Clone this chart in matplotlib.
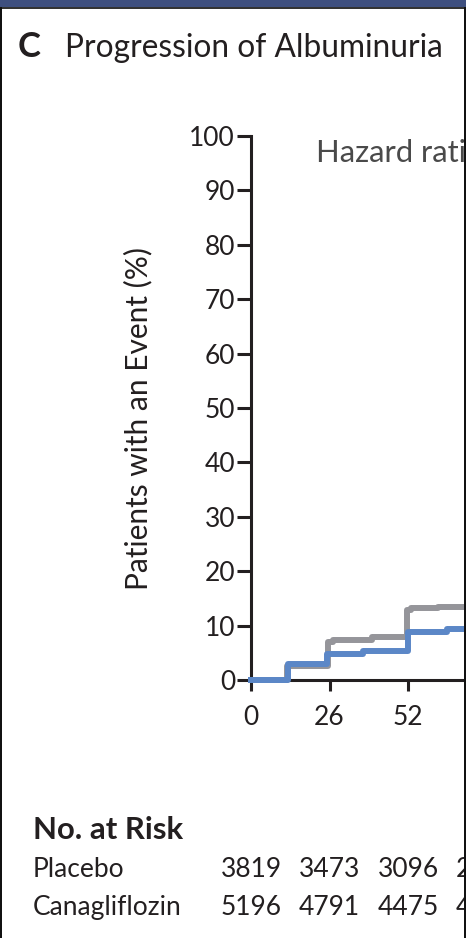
import matplotlib
matplotlib.use("Agg")
import matplotlib.pyplot as plt
import matplotlib.transforms as mtransforms
from matplotlib.patches import Rectangle

plt.rcParams['font.family'] = ['Lato', 'DejaVu Sans']

# ---- data ----
title_letter = "C"
title_text = "Progression of Albuminuria"
ylabel = "Patients with an Event (%)"
hr_text = "Hazard ratio, 0.73 (95% CI, 0.67\u20130.79)"
yticks = [0, 10, 20, 30, 40, 50, 60, 70, 80, 90, 100]
xticks = [0, 26, 52]
risk_weeks = [0, 26, 52, 78]
groups = ["Placebo", "Canagliflozin"]
placebo_risk = ["3819", "3473", "3096", "2790"]
cana_risk = ["5196", "4791", "4475", "4176"]

placebo_weeks = [0, 12, 25.5, 27, 40, 51.7, 53, 62, 75]
placebo_pct = [0, 2.5, 7.0, 7.4, 7.9, 12.9, 13.2, 13.5, 13.5]
cana_weeks = [0, 12.3, 25.2, 37, 52, 65, 75]
cana_pct = [0, 3.0, 4.8, 5.4, 8.9, 9.4, 9.4]

W, H = 466, 938
fig = plt.figure(figsize=(W / 100, H / 100), dpi=100)
fig.patch.set_facecolor('white')

TXT = '#231f20'
BLUE = '#5b87c7'
GRAY = '#95959a'

# axes placement in pixels
x0_px, y0_px, y100_px = 251, 680, 136
px_per_wk = 78.5 / 26
xmax = (W - x0_px) / px_per_wk
ax = fig.add_axes([x0_px / W, (H - y0_px) / H, (W - x0_px) / W, (y0_px - y100_px) / H])
ax.set_xlim(0, xmax)
ax.set_ylim(0, 100)
for s in ['top', 'right']:
    ax.spines[s].set_visible(False)
for s in ['left', 'bottom']:
    ax.spines[s].set_linewidth(2.2)
    ax.spines[s].set_color(TXT)
ax.set_yticks(yticks)
ax.set_xticks(xticks)
ax.tick_params(axis='y', length=10, width=2.2, color=TXT, pad=1.5,
               labelsize=19, labelcolor=TXT)
ax.tick_params(axis='x', length=8, width=2.2, color=TXT, pad=10,
               labelsize=19, labelcolor=TXT)

ax.step(placebo_weeks, placebo_pct, where='post', color=GRAY, lw=4.3,
        solid_joinstyle='round', clip_on=False, zorder=3)
ax.step(cana_weeks, cana_pct, where='post', color=BLUE, lw=4.3,
        solid_joinstyle='round', clip_on=False, zorder=4)

fig.canvas.draw()
renderer = fig.canvas.get_renderer()


def fit(t, target_px):
    bb = t.get_window_extent(renderer)
    t.set_fontsize(t.get_fontsize() * target_px / bb.width)


# title
t1 = fig.text(18 / W, 1 - 57 / H, title_letter, fontsize=24, fontweight='bold',
              color=TXT, ha='left', va='baseline')
fit(t1, 23)
t2 = fig.text(65 / W, 1 - 57 / H, title_text, fontsize=24, color=TXT,
              ha='left', va='baseline')
fit(t2, 378)

# y label
yl = fig.text(138 / W, 1 - 419 / H, ylabel, rotation=90, fontsize=18,
              color=TXT, ha='center', va='center')
bb = yl.get_window_extent(renderer)
yl.set_fontsize(yl.get_fontsize() * 342 / bb.height)

# hazard ratio (cut off by the right edge, as in the reference)
probe = fig.text(0, 0, "Hazard rati", fontsize=18)
pw = probe.get_window_extent(renderer).width
probe.remove()
hr_size = 18 * 150 / pw
ax.text(316 / W, 1 - 161 / H, hr_text, transform=fig.transFigure, fontsize=hr_size,
        color='#4a4a4a', ha='left', va='baseline', clip_on=False)

# number at risk
nr = fig.text(33 / W, 1 - 839 / H, "No. at Risk", fontsize=20, fontweight='bold',
              color=TXT, ha='left', va='baseline')
fit(nr, 150)
trans = mtransforms.blended_transform_factory(ax.transData, fig.transFigure)
for name, vals, base in [(groups[0], placebo_risk, 877), (groups[1], cana_risk, 915)]:
    fig.text(33 / W, 1 - base / H, name, fontsize=19, color=TXT,
             ha='left', va='baseline')
    for wk, v in zip(risk_weeks, vals):
        ax.text(wk, 1 - base / H, v, transform=trans, fontsize=19, color=TXT,
                ha='center', va='baseline', clip_on=False)

# frame decorations
fig.patches.append(Rectangle((0, 1 - 7 / H), 1, 7 / H, transform=fig.transFigure,
                             facecolor='#3e4f7f', edgecolor='none', zorder=10))
fig.patches.append(Rectangle((0, 1 - 9.5 / H), 1, 2.5 / H, transform=fig.transFigure,
                             facecolor='#333333', edgecolor='none', zorder=10))
fig.patches.append(Rectangle((0, 0), 2 / W, 1 - 7 / H, transform=fig.transFigure,
                             facecolor='#111111', edgecolor='none', zorder=10))
fig.patches.append(Rectangle((1 - 2 / W, 0), 2 / W, 1 - 7 / H, transform=fig.transFigure,
                             facecolor='#111111', edgecolor='none', zorder=10))

fig.savefig('out.png', dpi=100, facecolor='white')
